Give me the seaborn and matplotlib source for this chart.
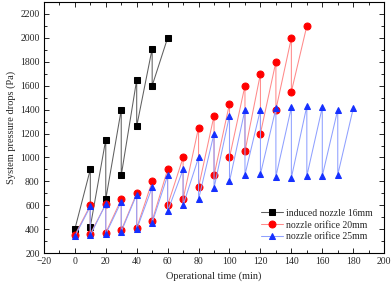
import pandas as pd
import matplotlib
matplotlib.use('Agg')
import matplotlib.pyplot as plt
import seaborn as sns
from matplotlib.ticker import MultipleLocator

# --- 数据: 每个时刻的压降 (清灰前 / 清灰后) ---
black_time = [0, 10, 20, 30, 40, 50, 60]
black_peak = [400, 900, 1150, 1400, 1650, 1910, 2000]
black_drop = [400, 420, 650, 850, 1260, 1600, 2000]

red_time = [0, 10, 20, 30, 40, 50, 60, 70, 80, 90, 100, 110, 120, 130, 140, 150]
red_peak = [350, 600, 610, 650, 700, 800, 900, 1000, 1250, 1350, 1450, 1600, 1700, 1800, 2000, 2100]
red_drop = [350, 360, 370, 390, 410, 470, 600, 650, 750, 850, 1000, 1050, 1200, 1400, 1550, 2100]

blue_time = [0, 10, 20, 30, 40, 50, 60, 70, 80, 90, 100, 110, 120, 130, 140, 150, 160, 170, 180]
blue_peak = [340, 590, 610, 630, 690, 750, 850, 900, 1000, 1200, 1350, 1400, 1400, 1410, 1420, 1430, 1420, 1400, 1410]
blue_drop = [340, 350, 360, 380, 400, 455, 550, 600, 650, 745, 800, 855, 860, 840, 830, 845, 845, 855, 1410]

labels = ['induced nozzle 16mm', 'nozzle orifice 20mm', 'nozzle orifice 25mm']


def sawtooth(times, peaks, drops):
    rows = []
    for t, p, d in zip(times, peaks, drops):
        rows.append((t, p))
        if d != p:
            rows.append((t, d))
    return pd.DataFrame(rows, columns=['t', 'P'])


sns.set_style('ticks')
plt.rcParams['font.family'] = ['Liberation Serif', 'DejaVu Serif']

fig = plt.figure(figsize=(3.92, 2.87), dpi=100)
ax = fig.add_axes([0.112, 0.118, 0.868, 0.875])

series = [
    (sawtooth(black_time, black_peak, black_drop), '#606060', 's', '#000000', 4.2),
    (sawtooth(red_time, red_peak, red_drop), '#ff8a8a', 'o', '#ff0000', 5),
    (sawtooth(blue_time, blue_peak, blue_drop), '#8fa0ff', '^', '#1530ff', 5),
]

for (df, lc, mk, mc, ms), lab in zip(series, labels):
    sns.lineplot(data=df, x='t', y='P', sort=False, estimator=None, ax=ax,
                 color=lc, linewidth=0.75, marker=mk, markersize=ms,
                 markerfacecolor=mc, markeredgecolor=mc, label=lab)

ax.set_xlim(-20, 200)
ax.set_ylim(200, 2300)
ax.xaxis.set_major_locator(MultipleLocator(20))
ax.xaxis.set_minor_locator(MultipleLocator(10))
ax.yaxis.set_major_locator(MultipleLocator(200))
ax.yaxis.set_minor_locator(MultipleLocator(100))
ax.tick_params(which='both', direction='in', top=True, right=True,
               labelsize=7, width=0.7, pad=3)
ax.tick_params(which='major', length=3.5)
ax.tick_params(which='minor', length=2)
for s in ax.spines.values():
    s.set_linewidth(0.8)
    s.set_color('black')

ax.set_xlabel('Operational time (min)', fontsize=7.5, labelpad=4)
ax.set_ylabel('System pressure drops (Pa)', fontsize=7.5, labelpad=3)

ax.legend(loc='lower right', frameon=False, fontsize=7, handlelength=2.2,
          handletextpad=0.3, labelspacing=0.3, borderaxespad=0.8)

fig.savefig('out.png', dpi=100)
